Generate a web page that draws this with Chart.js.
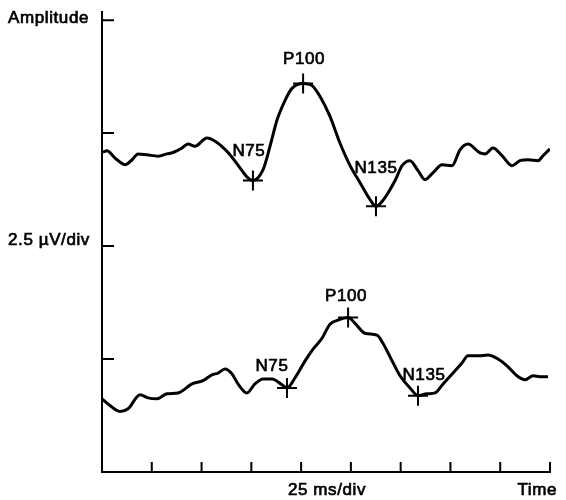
<!DOCTYPE html>
<html>
<head>
<meta charset="utf-8">
<script src="https://cdn.jsdelivr.net/npm/chart.js@4.4.0/dist/chart.umd.min.js"></script>
<style>
  html, body { margin: 0; padding: 0; background: #fff; }
  #wrap { width: 566px; height: 500px; }
</style>
</head>
<body>
<div id="wrap"><canvas id="vep"></canvas></div>
<script>
// traces: time in ms, amplitude in uV
const topTime = [0.5, 2.5, 6.5, 11.6, 15.1, 18.1, 22.6, 28.1, 32.6, 35.7, 40.2, 43.2, 46.7, 52.7, 56.8, 63.3, 69.3, 72.8, 75.8, 80.9, 84.4, 87.9, 91.9, 95.4, 101.0, 105.5, 109.5, 114.5, 119.5, 124.6, 129.6, 134.6, 137.6, 141.1, 147.2, 150.7, 154.7, 158.7, 162.2, 166.2, 170.8, 175.8, 179.8, 183.8, 189.9, 192.4, 196.4, 200.9, 205.9, 209.9, 214.0, 219.0, 221.5, 225.0];
const topAmp = [7.08, 7.11, 6.95, 6.80, 6.91, 7.04, 7.02, 6.99, 7.04, 7.07, 7.17, 7.26, 7.21, 7.39, 7.32, 7.07, 6.73, 6.53, 6.45, 6.69, 7.21, 7.79, 8.22, 8.49, 8.60, 8.55, 8.31, 7.87, 7.28, 6.78, 6.40, 6.03, 5.88, 6.01, 6.45, 6.78, 6.89, 6.67, 6.47, 6.62, 6.80, 6.78, 7.13, 7.26, 7.06, 7.04, 7.17, 7.00, 6.78, 6.89, 6.91, 6.89, 7.00, 7.15];
const bottomTime = [0, 4.0, 9.0, 13.1, 19.1, 23.1, 27.6, 32.6, 38.2, 45.2, 50.7, 55.2, 58.3, 61.8, 65.3, 68.3, 72.8, 76.8, 80.9, 85.4, 90.4, 92.9, 96.9, 102.0, 106.0, 110.5, 114.5, 118.5, 123.6, 127.1, 132.1, 138.1, 141.1, 145.7, 149.7, 154.7, 158.7, 163.2, 167.3, 171.3, 176.3, 180.8, 183.8, 188.9, 193.9, 198.9, 203.4, 208.4, 212.5, 216.5, 220.0, 224.0];
const bottomAmp = [1.62, 1.47, 1.34, 1.40, 1.71, 1.64, 1.62, 1.73, 1.75, 1.95, 2.02, 2.15, 2.19, 2.28, 2.17, 1.95, 1.75, 1.95, 2.06, 2.06, 1.93, 1.86, 2.08, 2.46, 2.72, 2.96, 3.27, 3.36, 3.42, 3.29, 3.07, 3.03, 2.85, 2.46, 2.13, 1.86, 1.69, 1.73, 1.75, 1.95, 2.19, 2.41, 2.57, 2.57, 2.59, 2.50, 2.35, 2.13, 2.04, 2.13, 2.11, 2.11];

// marked peaks
const peakNames = ["N75", "P100", "N135"];
const topPeakTime = [75.8, 101.0, 137.6];
const topPeakAmp = [6.45, 8.60, 5.88];
const bottomPeakTime = [92.9, 123.6, 158.7];
const bottomPeakAmp = [1.86, 3.42, 1.69];

// axis divisions (25 ms/div, 2.5 uV/div)
const timeTicks = [25, 50, 75, 100, 125, 150, 175, 200, 225];
const ampTicks = [2.5, 5, 7.5, 10];

// label nudges in px, per peak
const topLabelShift = [[-4, -29], [1, -24], [0, -38]];
const bottomLabelShift = [[-15, -22], [-2, -21], [6, -20]];

const FONT = "17px 'Liberation Sans', Arial, Helvetica, sans-serif";

function pts(xs, ys) {
    return xs.map((t, i) => ({ x: t, y: ys[i] }));
}

const traceStyle = {
    borderColor: "#000",
    borderWidth: 3,
    pointRadius: 0,
    cubicInterpolationMode: "monotone",
    fill: false
};
const markStyle = {
    showLine: false,
    pointStyle: "cross",
    pointRadius: 10,
    pointBorderWidth: 2,
    pointBorderColor: "#000",
    borderColor: "#000"
};

// scanned-looking text: fill plus a hairline stroke
function text(ctx, s, x, y) {
    ctx.fillText(s, x, y);
    ctx.strokeText(s, x, y);
}

const decor = {
    id: "decor",
    afterDraw(chart) {
        const { ctx, chartArea: a, scales: { x, y } } = chart;
        ctx.save();
        ctx.strokeStyle = "#000";
        ctx.lineWidth = 2;
        ctx.beginPath();
        timeTicks.forEach(t => {
            const px = x.getPixelForValue(t);
            ctx.moveTo(px, a.bottom);
            ctx.lineTo(px, a.bottom - 10);
        });
        ampTicks.forEach(v => {
            const py = y.getPixelForValue(v);
            ctx.moveTo(a.left, py);
            ctx.lineTo(a.left + 12, py);
        });
        ctx.stroke();

        ctx.fillStyle = "#000";
        ctx.lineWidth = 0.7;
        ctx.font = FONT;
        try { ctx.letterSpacing = "0.6px"; } catch (e) {}
        ctx.textBaseline = "middle";

        // peak names
        ctx.textAlign = "center";
        [[2, topLabelShift], [3, bottomLabelShift]].forEach(([di, shift]) => {
            chart.getDatasetMeta(di).data.forEach((el, i) => {
                text(ctx, peakNames[i], el.x + shift[i][0], el.y + shift[i][1]);
            });
        });

        // axis captions
        ctx.textAlign = "left";
        text(ctx, "Amplitude", 8, 18);
        text(ctx, "2.5 \u00B5V/div", 8, 240);
        ctx.textAlign = "center";
        text(ctx, "25 ms/div", (a.left + a.right) / 2 + 1, a.bottom + 18);
        ctx.textAlign = "right";
        text(ctx, "Time", chart.width - 9, a.bottom + 18);
        ctx.restore();
    }
};

new Chart(document.getElementById("vep"), {
    type: "line",
    data: {
        datasets: [
            Object.assign({ label: "upper", data: pts(topTime, topAmp) }, traceStyle),
            Object.assign({ label: "lower", data: pts(bottomTime, bottomAmp) }, traceStyle),
            Object.assign({ label: "upper peaks", data: pts(topPeakTime, topPeakAmp) }, markStyle),
            Object.assign({ label: "lower peaks", data: pts(bottomPeakTime, bottomPeakAmp) }, markStyle)
        ]
    },
    plugins: [decor],
    options: {
        responsive: true,
        maintainAspectRatio: false,
        animation: false,
        layout: {
            padding: { left: 102, top: 8, right: 16, bottom: 28 }
        },
        plugins: {
            legend: { display: false },
            tooltip: { enabled: false }
        },
        scales: {
            x: {
                type: "linear",
                min: 0,
                max: 225,
                ticks: { display: false },
                grid: { drawOnChartArea: false, drawTicks: false },
                border: { display: true, color: "#000", width: 2 }
            },
            y: {
                min: 0,
                max: 10.18,
                ticks: { display: false },
                grid: { drawOnChartArea: false, drawTicks: false },
                border: { display: true, color: "#000", width: 2 }
            }
        }
    }
});
</script>
</body>
</html>
